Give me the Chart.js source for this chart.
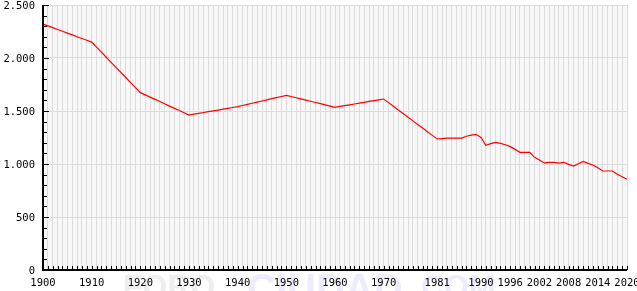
<!DOCTYPE html>
<html>
<head>
<meta charset="utf-8">
<script src="https://cdn.jsdelivr.net/npm/chart.js@4.4.0/dist/chart.umd.min.js"></script>
<style>
  html, body { margin: 0; padding: 0; background: #fff; }
</style>
</head>
<body>
<canvas id="chart" width="637" height="291"></canvas>
<script>
// Years on the category axis (one per year)
const years = [
  1900, 1901, 1902, 1903, 1904, 1905, 1906, 1907, 1908, 1909,
  1910, 1911, 1912, 1913, 1914, 1915, 1916, 1917, 1918, 1919,
  1920, 1921, 1922, 1923, 1924, 1925, 1926, 1927, 1928, 1929,
  1930, 1931, 1932, 1933, 1934, 1935, 1936, 1937, 1938, 1939,
  1940, 1941, 1942, 1943, 1944, 1945, 1946, 1947, 1948, 1949,
  1950, 1951, 1952, 1953, 1954, 1955, 1956, 1957, 1958, 1959,
  1960, 1961, 1962, 1963, 1964, 1965, 1966, 1967, 1968, 1969,
  1970, 1971, 1972, 1973, 1974, 1975, 1976, 1977, 1978, 1979,
  1980, 1981, 1982, 1983, 1984, 1985, 1986, 1987, 1988, 1989,
  1990, 1991, 1992, 1993, 1994, 1995, 1996, 1997, 1998, 1999,
  2000, 2001, 2002, 2003, 2004, 2005, 2006, 2007, 2008, 2009,
  2010, 2011, 2012, 2013, 2014, 2015, 2016, 2017, 2018, 2019,
  2020
];

// Inhabitants per year
const population = [
  2320, 2303, 2286, 2269, 2252, 2235, 2218, 2201, 2184, 2167,
  2150, 2102, 2055, 2007, 1959, 1912, 1864, 1816, 1768, 1721,
  1673, 1652, 1631, 1610, 1589, 1568, 1546, 1525, 1504, 1483,
  1462, 1470, 1478, 1486, 1494, 1502, 1509, 1517, 1525, 1533,
  1541, 1552, 1562, 1573, 1584, 1594, 1605, 1616, 1626, 1637,
  1648, 1637, 1625, 1614, 1603, 1592, 1580, 1569, 1558, 1546,
  1535, 1543, 1551, 1558, 1566, 1574, 1582, 1590, 1597, 1605,
  1613, 1579, 1544, 1510, 1476, 1442, 1407, 1373, 1339, 1304,
  1270, 1236, 1240, 1245, 1245, 1245, 1245, 1262, 1272, 1280,
  1251, 1176, 1192, 1204, 1195, 1182, 1164, 1138, 1110, 1110,
  1110, 1063, 1038, 1010, 1016, 1016, 1009, 1016, 997, 981,
  1003, 1025, 1006, 991, 965, 934, 934, 934, 903, 880,
  856
];

// Years that get a label under the axis
const labeledYears = [1900, 1910, 1920, 1930, 1940, 1950, 1960, 1970, 1981, 1990, 1996, 2002, 2008, 2014, 2020];

const Y_MAX = 2500;
const Y_STEP = 500;
const Y_MINOR = 100;

const labelFont = { family: "'DejaVu Sans Mono', monospace", size: 10.5 };

// Format 2500 -> "2.500"
function formatThousands(v) {
  return String(v).replace(/\B(?=(\d{3})+(?!\d))/g, '.');
}

// Background, watermark, axis lines and inward tick marks
const framePlugin = {
  id: 'frame',
  beforeDraw(chart) {
    const { ctx, chartArea: a } = chart;
    ctx.save();
    ctx.fillStyle = '#f8f8f8';
    ctx.fillRect(a.left, a.top, a.right - a.left, a.bottom - a.top);

    // faint watermark under the axis
    ctx.textBaseline = 'alphabetic';
    ctx.font = "bold 32px 'Liberation Sans', sans-serif";
    ctx.fillStyle = '#eeeeee';
    ctx.fillText('FORO', 123, 297);
    ctx.font = "bold 40px 'Liberation Sans', sans-serif";
    ctx.fillStyle = '#ececfd';
    ctx.fillText('CIUDAD', 247, 302);
    ctx.font = "bold 32px 'Liberation Sans', sans-serif";
    ctx.fillText('.COM', 412, 297);
    ctx.restore();
  },
  afterDraw(chart) {
    const { ctx, chartArea: a, scales: { x, y } } = chart;
    ctx.save();
    ctx.strokeStyle = '#000';
    ctx.lineWidth = 1;
    ctx.beginPath();
    for (let v = 0; v <= Y_MAX; v += Y_MINOR) {
      const py = Math.round(y.getPixelForValue(v)) + 0.5;
      const len = v % Y_STEP === 0 ? 6 : 4;
      ctx.moveTo(a.left, py);
      ctx.lineTo(a.left + len, py);
    }
    years.forEach((yr, i) => {
      const px = Math.round(x.getPixelForValue(i)) + 0.5;
      ctx.moveTo(px, a.bottom);
      ctx.lineTo(px, a.bottom - 4);
    });
    ctx.stroke();

    ctx.lineWidth = 2;
    ctx.beginPath();
    ctx.moveTo(a.left, a.top);
    ctx.lineTo(a.left, a.bottom);
    ctx.lineTo(a.right, a.bottom);
    ctx.stroke();
    ctx.restore();
  }
};

new Chart(document.getElementById('chart'), {
  type: 'line',
  data: {
    labels: years.map(String),
    datasets: [{
      data: population,
      borderColor: '#ff0000',
      borderWidth: 1.2,
      pointRadius: 0,
      tension: 0,
      fill: false
    }]
  },
  options: {
    responsive: false,
    animation: false,
    devicePixelRatio: 1,
    layout: { padding: { top: 5, right: 10, left: 0, bottom: 0 } },
    plugins: {
      legend: { display: false },
      tooltip: { enabled: false }
    },
    scales: {
      x: {
        type: 'category',
        offset: false,
        grid: { color: '#dcdcdc', drawTicks: false },
        border: { display: false },
        ticks: {
          autoSkip: false,
          maxRotation: 0,
          minRotation: 0,
          padding: 7,
          color: '#000',
          font: labelFont,
          callback: (v, i) => labeledYears.includes(years[i]) ? String(years[i]) : ''
        },
        afterFit(scale) {
          scale.height = 21;
          scale.paddingLeft = 0;
          scale.paddingRight = 0;
        }
      },
      y: {
        min: 0,
        max: Y_MAX,
        grid: { color: '#dcdcdc', drawTicks: false },
        border: { display: false },
        ticks: {
          stepSize: Y_STEP,
          padding: 8,
          labelOffset: 1,
          color: '#000',
          font: labelFont,
          callback: v => formatThousands(v)
        },
        afterFit(scale) {
          scale.width = 43;
          scale.paddingTop = 0;
          scale.paddingBottom = 0;
        }
      }
    }
  },
  plugins: [framePlugin]
});
</script>
</body>
</html>
